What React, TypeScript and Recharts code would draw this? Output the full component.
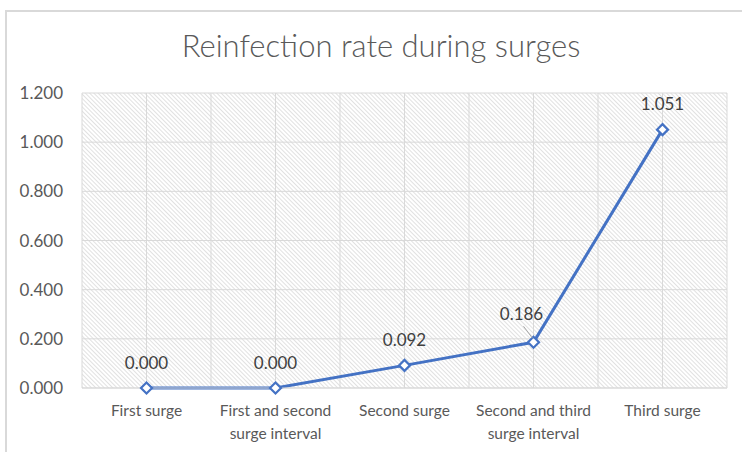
import React from 'react';
import { LineChart, Line, XAxis, YAxis, CartesianGrid, LabelList } from 'recharts';

const chartTitle = 'Reinfection rate during surges';
const categories = [
  'First surge',
  'First and second\nsurge interval',
  'Second surge',
  'Second and third\nsurge interval',
  'Third surge',
];
const rates = [0.0, 0.0, 0.092, 0.186, 1.051];
const yTicks = [0, 0.2, 0.4, 0.6, 0.8, 1.0, 1.2];

const data = categories.map((c, i) => ({ category: c, rate: rates[i] }));

const FONT = "Lato, 'Open Sans', sans-serif";
const BLUE = '#4472C4';
const GRID = '#d9d9d9';
const TEXT = '#595959';

const XTick = (props: any) => {
  const { x, y, payload } = props;
  const lines = String(payload.value).split('\n');
  return (
    <text x={x} y={y} textAnchor="middle" fill={TEXT} fontSize={15.5} fontFamily={FONT}>
      {lines.map((l, i) => (
        <tspan key={i} x={x} dy={i === 0 ? '0.71em' : 23}>
          {l}
        </tspan>
      ))}
    </text>
  );
};

const Diamond = (props: any) => {
  const { cx, cy } = props;
  if (cx == null || cy == null) return null;
  const s = 5.5;
  return (
    <polygon
      points={`${cx},${cy - s} ${cx + s},${cy} ${cx},${cy + s} ${cx - s},${cy}`}
      fill="#ffffff"
      stroke={BLUE}
      strokeWidth={2.2}
    />
  );
};

const PointLabel = (props: any) => {
  const { x, y, value, index } = props;
  const txt = Number(value).toFixed(3);
  if (index === 3) {
    return (
      <g>
        <line x1={x - 10} y1={y - 16} x2={x - 1} y2={y - 4} stroke="#a6a6a6" strokeWidth={1} />
        <text x={x - 12} y={y - 29} textAnchor="middle" dominantBaseline="central" fill="#404040" fontSize={17} fontFamily={FONT}>
          {txt}
        </text>
      </g>
    );
  }
  return (
    <text x={x} y={y - 26} textAnchor="middle" dominantBaseline="central" fill="#404040" fontSize={17} fontFamily={FONT}>
      {txt}
    </text>
  );
};

const verticalLines = ({ offset }: any) => {
  const n = categories.length * 2;
  const out: number[] = [];
  for (let k = 0; k <= n; k++) out.push(offset.left + (k * offset.width) / n);
  return out;
};

export default function App() {
  return (
    <div style={{ position: 'absolute', left: 0, top: 0, width: 742, height: 452, overflow: 'hidden', background: '#fff' }}>
      <svg width={0} height={0} style={{ position: 'absolute' }}>
        <defs>
          <pattern id="hatch" width={3} height={3} patternUnits="userSpaceOnUse" patternTransform="rotate(-45)">
            <rect width={3} height={3} fill="#ffffff" />
            <line x1={0} y1={0} x2={0} y2={3} stroke="#c9c9c9" strokeWidth={1.1} />
          </pattern>
        </defs>
      </svg>
      <div
        style={{
          position: 'absolute',
          left: 5,
          top: 10,
          width: 760,
          height: 460,
          borderTop: '2px solid #d9d9d9',
          borderLeft: '2px solid #d9d9d9',
        }}
      />
      <div
        style={{
          position: 'absolute',
          left: 0,
          top: 25,
          width: 762,
          textAlign: 'center',
          fontFamily: FONT,
          fontWeight: 300,
          fontSize: 31,
          color: TEXT,
          lineHeight: '40px',
        }}
      >
        {chartTitle}
      </div>
      <div style={{ position: 'absolute', left: 0, top: 0 }}>
        <LineChart width={742} height={452} data={data} margin={{ top: 93, right: 15, bottom: 0, left: 0 }}>
          <CartesianGrid
            stroke={GRID}
            fill="url(#hatch)"
            verticalCoordinatesGenerator={verticalLines}
          />
          <XAxis
            dataKey="category"
            height={64}
            padding={{ left: 64.5, right: 64.5 }}
            tickLine={false}
            axisLine={{ stroke: GRID }}
            tickSize={0}
            tickMargin={17}
            interval={0}
            tick={<XTick />}
          />
          <YAxis
            width={82}
            domain={[0, 1.2]}
            ticks={yTicks}
            tickFormatter={(v: number) => v.toFixed(3)}
            tickLine={false}
            axisLine={false}
            tickSize={0}
            tickMargin={19}
            tick={{ fill: TEXT, fontSize: 17, fontFamily: FONT }}
          />
          <Line
            type="linear"
            dataKey="rate"
            stroke={BLUE}
            strokeWidth={3}
            dot={<Diamond />}
            activeDot={false}
            isAnimationActive={false}
          >
            <LabelList dataKey="rate" content={<PointLabel />} />
          </Line>
        </LineChart>
      </div>
    </div>
  );
}
